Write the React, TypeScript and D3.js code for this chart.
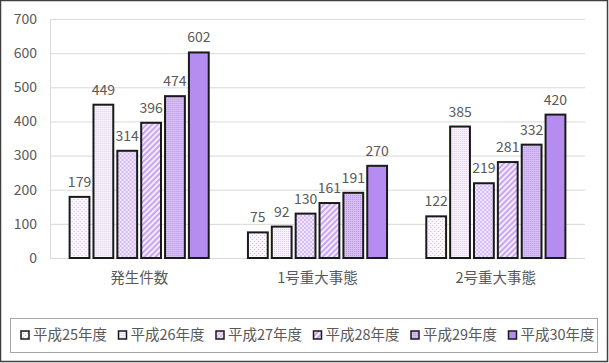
import React, { useEffect, useRef } from 'react';
import * as d3 from 'd3';

const categories = ['発生件数', '1号重大事態', '2号重大事態'];
const seriesNames = ['平成25年度', '平成26年度', '平成27年度', '平成28年度', '平成29年度', '平成30年度'];
const h25 = [179, 75, 122];
const h26 = [449, 92, 385];
const h27 = [314, 130, 219];
const h28 = [396, 161, 281];
const h29 = [474, 191, 332];
const h30 = [602, 270, 420];
const yTicks = [0, 100, 200, 300, 400, 500, 600, 700];

const allSeries = [h25, h26, h27, h28, h29, h30];
const FONT = '"Noto Sans CJK JP", "Noto Sans", sans-serif';

const App: React.FC = () => {
  const svgRef = useRef<SVGSVGElement>(null);

  useEffect(() => {
    if (!svgRef.current) return;
    const W = 609;
    const H = 363;
    const margin = { top: 19, right: 24, bottom: 105, left: 50 };
    const width = W - margin.left - margin.right;
    const height = H - margin.top - margin.bottom;

    const svg = d3.select(svgRef.current).attr('width', W).attr('height', H);
    svg.selectAll('*').remove();

    // patterns
    const defs = svg.append('defs');
    const p1 = defs.append('pattern').attr('id', 'pat0').attr('patternUnits', 'userSpaceOnUse').attr('width', 4).attr('height', 4);
    p1.append('rect').attr('width', 4).attr('height', 4).attr('fill', '#fbf8ff');
    p1.append('rect').attr('x', 0).attr('y', 0).attr('width', 1).attr('height', 1).attr('fill', '#c7b0ee');
    p1.append('rect').attr('x', 2).attr('y', 2).attr('width', 1).attr('height', 1).attr('fill', '#c7b0ee');

    const p2 = defs.append('pattern').attr('id', 'pat1').attr('patternUnits', 'userSpaceOnUse').attr('width', 2).attr('height', 2);
    p2.append('rect').attr('width', 2).attr('height', 2).attr('fill', '#f8f3ff');
    p2.append('rect').attr('width', 1).attr('height', 1).attr('fill', '#dccbf7');

    const p3 = defs.append('pattern').attr('id', 'pat2').attr('patternUnits', 'userSpaceOnUse').attr('width', 4).attr('height', 4);
    p3.append('rect').attr('width', 4).attr('height', 4).attr('fill', '#f3ebfd');
    p3.append('rect').attr('width', 2).attr('height', 2).attr('fill', '#d2b9f5');
    p3.append('rect').attr('x', 2).attr('y', 2).attr('width', 2).attr('height', 2).attr('fill', '#d2b9f5');

    const p4 = defs.append('pattern').attr('id', 'pat3').attr('patternUnits', 'userSpaceOnUse').attr('width', 4).attr('height', 4)
      .attr('patternTransform', 'rotate(45)');
    p4.append('rect').attr('width', 4).attr('height', 4).attr('fill', '#f4ecfd');
    p4.append('rect').attr('width', 2).attr('height', 4).attr('fill', '#c9a6f3');

    const p5 = defs.append('pattern').attr('id', 'pat4').attr('patternUnits', 'userSpaceOnUse').attr('width', 2).attr('height', 2);
    p5.append('rect').attr('width', 2).attr('height', 2).attr('fill', '#d6bff7');
    p5.append('rect').attr('width', 1).attr('height', 1).attr('fill', '#b993ee');

    const fills = ['url(#pat0)', 'url(#pat1)', 'url(#pat2)', 'url(#pat3)', 'url(#pat4)', '#b58cf0'];

    // outer border
    svg.append('rect').attr('x', 0.5).attr('y', 0.5).attr('width', W - 2).attr('height', H - 2)
      .attr('fill', '#fff').attr('stroke', '#404040').attr('stroke-width', 1.5);

    const g = svg.append('g').attr('transform', `translate(${margin.left},${margin.top})`);

    const x0 = d3.scaleBand().domain(categories).range([0, width]).paddingInner(0.22).paddingOuter(0.11);
    const x1 = d3.scaleBand().domain(seriesNames).range([0, x0.bandwidth()]).paddingInner(0.17);
    const y = d3.scaleLinear().domain([0, 700]).range([height, 0]);

    // gridlines
    g.selectAll('.grid').data(yTicks).enter().append('line')
      .attr('x1', 0).attr('x2', width)
      .attr('y1', d => y(d) + 0.5).attr('y2', d => y(d) + 0.5)
      .attr('stroke', '#d9d9d9').attr('stroke-width', 1);
    g.append('line').attr('x1', 0.5).attr('x2', 0.5).attr('y1', 0).attr('y2', height)
      .attr('stroke', '#d9d9d9');

    // y labels
    g.selectAll('.ylab').data(yTicks).enter().append('text')
      .attr('x', -13).attr('y', d => y(d)).attr('dy', '0.35em')
      .attr('text-anchor', 'end').attr('font-family', FONT).attr('font-size', 14)
      .attr('fill', '#595959').text(d => d);

    // bars
    categories.forEach((cat, ci) => {
      const cg = g.append('g').attr('transform', `translate(${x0(cat)},0)`);
      seriesNames.forEach((s, si) => {
        const v = allSeries[si][ci];
        cg.append('rect')
          .attr('x', x1(s) as number).attr('y', y(v))
          .attr('width', x1.bandwidth()).attr('height', height - y(v))
          .attr('fill', fills[si]).attr('stroke', '#1a1a1a').attr('stroke-width', 2);
        cg.append('text')
          .attr('x', (x1(s) as number) + x1.bandwidth() / 2).attr('y', y(v) - 10)
          .attr('text-anchor', 'middle').attr('font-family', FONT).attr('font-size', 14)
          .attr('fill', '#595959').text(v);
      });
    });

    // x labels
    g.selectAll('.xlab').data(categories).enter().append('text')
      .attr('x', d => (x0(d) as number) + x0.bandwidth() / 2).attr('y', height + 25)
      .attr('text-anchor', 'middle').attr('font-family', FONT).attr('font-size', 14.5)
      .attr('fill', '#595959').text(d => d);

    // legend
    svg.append('rect').attr('x', 10.5).attr('y', 318.5).attr('width', 587).attr('height', 34)
      .attr('fill', 'none').attr('stroke', '#a6a6a6').attr('stroke-width', 1);
    const lg = svg.append('g').attr('transform', 'translate(21,335)');
    seriesNames.forEach((s, i) => {
      const item = lg.append('g').attr('transform', `translate(${i * 97.5},0)`);
      item.append('rect').attr('x', 0).attr('y', -4).attr('width', 8).attr('height', 8)
        .attr('fill', fills[i]).attr('stroke', '#1a1a1a').attr('stroke-width', 1.5);
      item.append('text').attr('x', 12).attr('y', 0).attr('dy', '0.35em')
        .attr('font-family', FONT).attr('font-size', 14.5).attr('fill', '#595959').text(s);
    });
  }, []);

  return <svg ref={svgRef} style={{ position: 'absolute', left: 0, top: 0 }} />;
};

export default App;
